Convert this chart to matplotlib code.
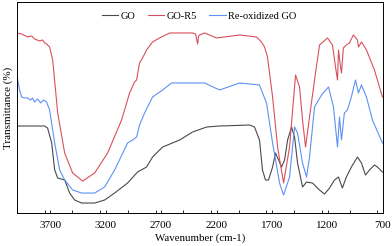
import matplotlib
matplotlib.use("Agg")
import matplotlib.pyplot as plt
from matplotlib.ticker import MultipleLocator

plt.rcParams['font.family'] = ['Liberation Serif', 'DejaVu Serif']

go_wn = [3995, 3750, 3723, 3686, 3659, 3632, 3569, 3524, 3479, 3416, 3299, 3209, 3119, 3002,
         2912, 2831, 2777, 2686, 2533, 2416, 2290, 2173, 1903, 1858, 1813, 1786, 1759, 1732,
         1695, 1669, 1641, 1614, 1587, 1560, 1524, 1497, 1470, 1425, 1389, 1335, 1272, 1227,
         1182, 1137, 1101, 1066, 1030, 985, 930, 894, 858, 822, 777, 750, 705]
go_t = [87, 87, 85, 70, 43, 35, 33, 20, 13, 10, 10, 13, 20, 30,
        41, 46, 56, 66, 73, 81, 86, 87, 88, 86, 73, 43, 33, 33,
        46, 60, 53, 46, 53, 73, 86, 76, 50, 26, 31, 30, 23, 19,
        25, 33, 36, 25, 36, 46, 56, 50, 38, 43, 48, 46, 41]

r5_wn = [3995, 3957, 3903, 3867, 3840, 3795, 3768, 3750, 3732, 3705, 3677, 3632, 3569, 3497,
         3407, 3299, 3182, 3056, 2984, 2939, 2921, 2894, 2867, 2831, 2777, 2714, 2623, 2416,
         2389, 2371, 2362, 2353, 2308, 2200, 1993, 1840, 1795, 1768, 1741, 1695, 1650, 1596,
         1542, 1488, 1452, 1425, 1398, 1362, 1317, 1272, 1200, 1155, 1128, 1110, 1101, 1083,
         1074, 1057, 1030, 1003, 967, 930, 921, 894, 849, 777, 705]
r5_t = [180, 179, 176, 177, 174, 172, 173, 170, 169, 166, 153, 100, 60, 40,
        32, 40, 60, 93, 120, 131, 133, 150, 155, 163, 171, 175, 180, 180,
        179, 169, 177, 178, 180, 175, 178, 176, 171, 166, 156, 116, 66, 30,
        66, 138, 126, 93, 66, 96, 133, 168, 175, 168, 146, 133, 163, 146,
        140, 165, 168, 170, 178, 173, 166, 171, 163, 143, 116]

reox_wn = [3995, 3976, 3957, 3930, 3903, 3876, 3858, 3840, 3813, 3786, 3759, 3732, 3705, 3659,
           3614, 3569, 3497, 3416, 3299, 3209, 3119, 3002, 2957, 2921, 2894, 2849, 2777, 2686,
           2605, 2308, 2173, 1993, 1813, 1750, 1695, 1632, 1596, 1542, 1497, 1470, 1425, 1389,
           1362, 1317, 1254, 1191, 1146, 1110, 1092, 1074, 1048, 1021, 985, 948, 921, 894,
           849, 795, 705]
reox_t = [135, 123, 116, 115, 115, 113, 115, 111, 114, 110, 113, 111, 103, 70,
          43, 33, 23, 20, 20, 26, 43, 70, 73, 76, 88, 100, 116, 123,
          130, 130, 123, 130, 128, 110, 70, 30, 18, 36, 86, 80, 50, 36,
          56, 106, 118, 126, 106, 66, 96, 73, 100, 103, 116, 133, 120, 128,
          116, 93, 70]

labels = ['GO', 'GO-R5', 'Re-oxidized GO']
colors = ['#4a4a4a', '#d9505c', '#5d92f5']

fig = plt.figure(figsize=(3.92, 2.46), dpi=100)
ax = fig.add_axes([0.043, 0.134, 0.934, 0.858])
ax.plot(go_wn, go_t, color=colors[0], lw=0.8, label=labels[0])
ax.plot(r5_wn, r5_t, color=colors[1], lw=0.8, label=labels[1])
ax.plot(reox_wn, reox_t, color=colors[2], lw=0.8, label=labels[2])

ax.set_xlim(4000, 700)
ax.set_ylim(0, 211)
ax.xaxis.set_minor_locator(MultipleLocator(250))
ax.set_xticks([3700, 3200, 2700, 2200, 1700, 1200, 700])
ax.tick_params(axis='x', which='both', direction='in', length=2.5, width=0.6,
               labelsize=8, pad=6)
ax.set_yticks([])
for s in ax.spines.values():
    s.set_linewidth(0.7)
ax.set_xlabel('Wavenumber (cm-1)', fontsize=7.8, labelpad=2)
ax.set_ylabel('Transmittance (%)', fontsize=8, labelpad=3)
ax.legend(loc='upper center', bbox_to_anchor=(0.497, 1.0), ncol=3, frameon=False,
          fontsize=7.5, handlelength=1.6, columnspacing=1.2, handletextpad=0.2)
fig.savefig('out.png', dpi=100)
